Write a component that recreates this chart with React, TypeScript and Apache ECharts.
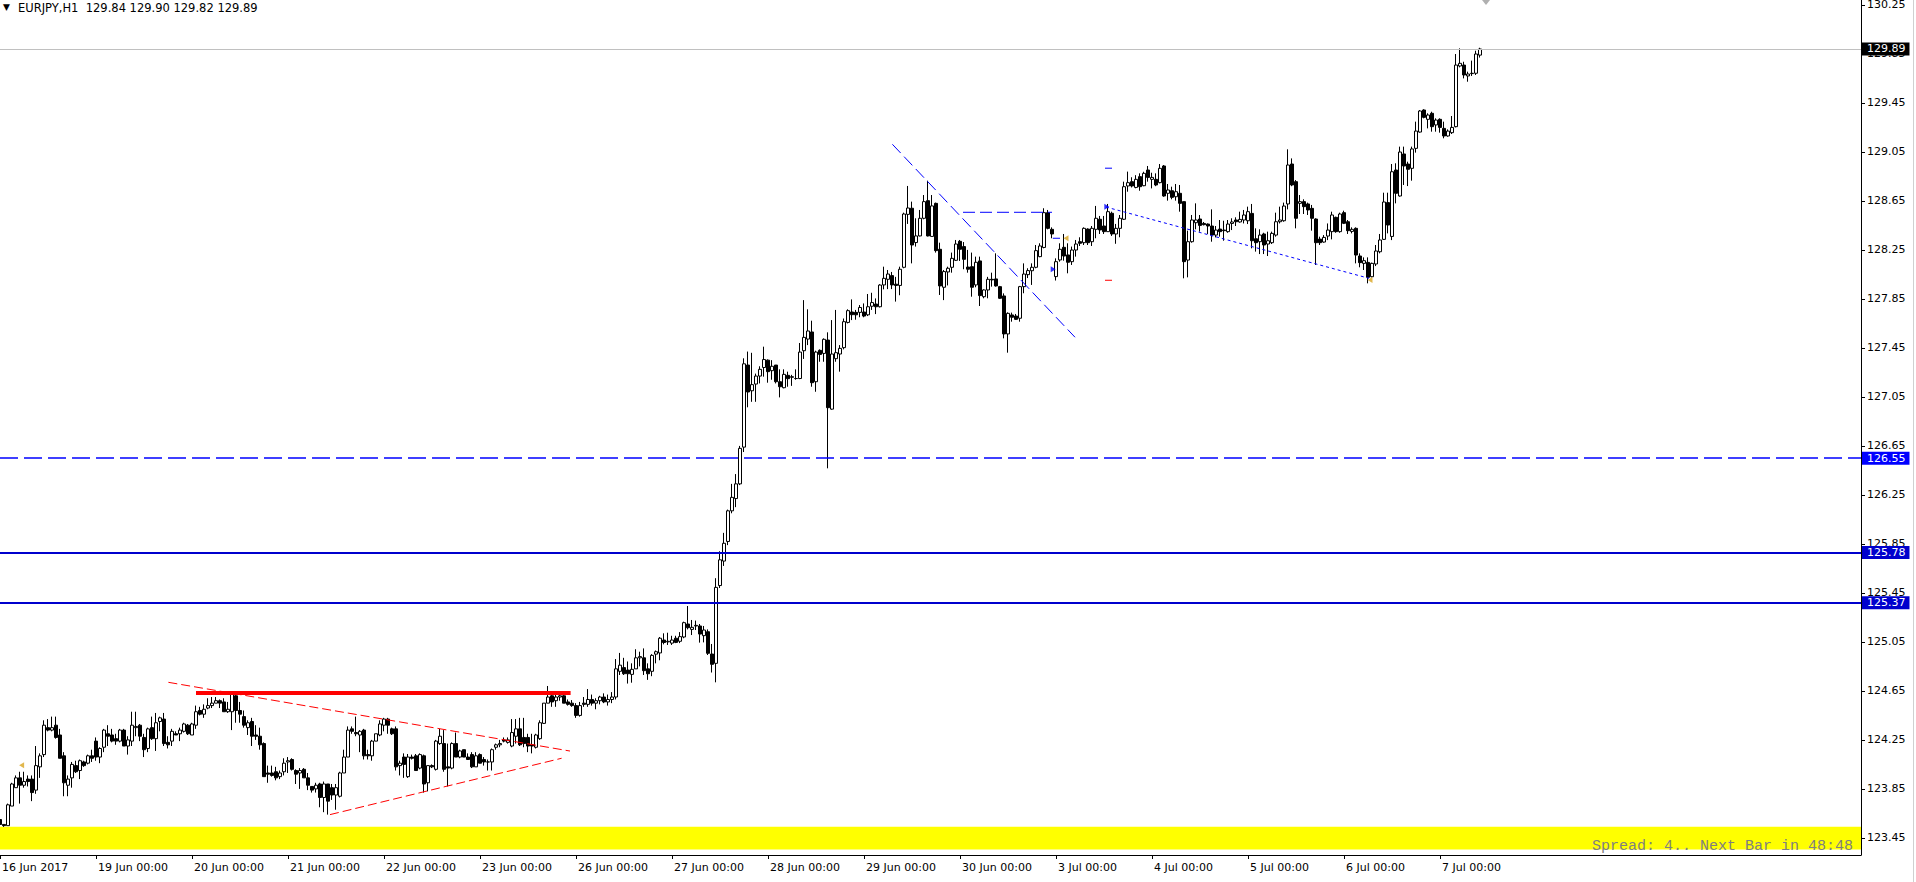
import React, { useEffect, useRef } from "react";
import * as echarts from "echarts";

type Bar = [number, number, number, number]; // open, high, low, close

const jun16: Bar[] = [
  [123.6, 123.64, 123.54, 123.56], [123.56, 123.56, 123.54, 123.55], [123.55, 123.73, 123.55, 123.72], [123.71, 123.9, 123.71, 123.89],
  [123.86, 123.96, 123.86, 123.94], [123.94, 123.99, 123.73, 123.88], [123.88, 123.99, 123.86, 123.91], [123.93, 123.96, 123.87, 123.91],
  [123.93, 123.96, 123.75, 123.82], [123.84, 124.2, 123.81, 124.04], [124.03, 124.14, 123.94, 124.12], [124.13, 124.41, 124.11, 124.37],
  [124.35, 124.42, 124.32, 124.33], [124.33, 124.44, 124.32, 124.35], [124.37, 124.44, 124.26, 124.27], [124.29, 124.34, 124.1, 124.1],
  [124.12, 124.15, 123.79, 123.9], [123.88, 123.96, 123.79, 123.93], [123.94, 124.07, 123.86, 124.05], [124.04, 124.08, 123.98, 123.99],
  [124.0, 124.09, 123.93, 124.08], [124.07, 124.08, 124.03, 124.04], [124.06, 124.13, 124.05, 124.12], [124.12, 124.17, 124.07, 124.1],
];
const jun19: Bar[] = [
  [124.24, 124.27, 124.08, 124.11], [124.11, 124.19, 124.06, 124.18], [124.19, 124.34, 124.15, 124.33], [124.3, 124.37, 124.2, 124.28],
  [124.29, 124.34, 124.23, 124.24], [124.26, 124.3, 124.21, 124.24], [124.24, 124.34, 124.23, 124.33], [124.33, 124.34, 124.2, 124.2],
  [124.2, 124.28, 124.13, 124.25], [124.24, 124.48, 124.2, 124.37], [124.35, 124.48, 124.28, 124.36], [124.37, 124.38, 124.24, 124.28],
  [124.27, 124.3, 124.11, 124.17], [124.18, 124.35, 124.15, 124.34], [124.35, 124.44, 124.25, 124.26], [124.26, 124.47, 124.16, 124.39],
  [124.4, 124.44, 124.32, 124.43], [124.42, 124.47, 124.2, 124.22], [124.23, 124.28, 124.18, 124.21], [124.24, 124.34, 124.2, 124.32],
  [124.3, 124.32, 124.29, 124.29], [124.3, 124.35, 124.24, 124.33], [124.32, 124.39, 124.31, 124.38], [124.37, 124.38, 124.29, 124.3],
];
const jun20: Bar[] = [
  [124.29, 124.39, 124.29, 124.38], [124.37, 124.53, 124.34, 124.48], [124.49, 124.52, 124.45, 124.46], [124.46, 124.54, 124.43, 124.5],
  [124.51, 124.59, 124.5, 124.53], [124.53, 124.6, 124.51, 124.55], [124.55, 124.6, 124.55, 124.57], [124.57, 124.58, 124.51, 124.55],
  [124.56, 124.59, 124.48, 124.48], [124.48, 124.56, 124.47, 124.5], [124.48, 124.64, 124.33, 124.63], [124.61, 124.64, 124.39, 124.49],
  [124.49, 124.56, 124.39, 124.46], [124.44, 124.49, 124.35, 124.37], [124.35, 124.41, 124.29, 124.39], [124.4, 124.43, 124.2, 124.28],
  [124.29, 124.37, 124.25, 124.28], [124.28, 124.35, 124.17, 124.21], [124.22, 124.23, 123.95, 123.95], [123.98, 124.04, 123.9, 123.97],
  [123.98, 124.04, 123.95, 123.96], [123.99, 124.03, 123.92, 123.94], [123.95, 124.0, 123.93, 123.98], [123.99, 124.1, 123.96, 124.06],
];
const jun21: Bar[] = [
  [124.07, 124.11, 123.98, 124.08], [124.09, 124.1, 124.0, 124.01], [124.0, 124.01, 123.89, 123.97], [123.98, 124.02, 123.85, 124.0],
  [124.01, 124.02, 123.94, 123.94], [123.94, 123.98, 123.84, 123.88], [123.87, 123.87, 123.82, 123.84], [123.85, 123.9, 123.82, 123.88],
  [123.89, 123.9, 123.7, 123.78], [123.78, 123.91, 123.66, 123.89], [123.89, 123.89, 123.64, 123.75], [123.86, 123.89, 123.76, 123.8],
  [123.8, 123.89, 123.68, 123.86], [123.79, 123.99, 123.78, 123.98], [123.98, 124.17, 123.98, 124.11], [124.11, 124.36, 124.11, 124.33],
  [124.34, 124.36, 124.3, 124.32], [124.31, 124.44, 124.28, 124.3], [124.29, 124.33, 124.15, 124.32], [124.33, 124.34, 124.09, 124.12],
  [124.13, 124.17, 124.09, 124.12], [124.12, 124.25, 124.08, 124.24], [124.24, 124.3, 124.24, 124.3], [124.29, 124.41, 124.28, 124.38],
];
const jun22: Bar[] = [
  [124.37, 124.43, 124.32, 124.42], [124.42, 124.43, 124.3, 124.37], [124.34, 124.35, 124.29, 124.3], [124.34, 124.36, 124.0, 124.03],
  [124.04, 124.08, 123.96, 124.06], [124.11, 124.14, 123.94, 124.05], [123.95, 124.135, 123.94, 124.11], [124.11, 124.13, 124.09, 124.1],
  [124.12, 124.135, 124.0, 124.0], [124.02, 124.14, 124.01, 124.13], [124.12, 124.13, 123.82, 123.89], [123.9, 124.04, 123.83, 124.04],
  [124.04, 124.05, 124.02, 124.03], [124.01, 124.25, 124.0, 124.24], [124.22, 124.34, 124.21, 124.28], [124.22, 124.33, 123.99, 124.01],
  [124.03, 124.22, 123.87, 124.02], [124.02, 124.23, 124.01, 124.22], [124.22, 124.31, 124.11, 124.11], [124.11, 124.17, 124.1, 124.16],
  [124.17, 124.17, 124.11, 124.11], [124.11, 124.14, 124.09, 124.09], [124.13, 124.15, 124.02, 124.03], [124.03, 124.15, 124.03, 124.12],
];
const jun23: Bar[] = [
  [124.13, 124.14, 124.06, 124.06], [124.09, 124.11, 124.04, 124.07], [124.07, 124.09, 124.0, 124.07], [124.07, 124.18, 124.0, 124.17],
  [124.19, 124.22, 124.17, 124.21], [124.21, 124.25, 124.19, 124.22], [124.25, 124.27, 124.23, 124.24], [124.23, 124.27, 124.22, 124.25],
  [124.2, 124.42, 124.19, 124.31], [124.28, 124.42, 124.22, 124.34], [124.34, 124.43, 124.2, 124.21], [124.27, 124.43, 124.19, 124.22],
  [124.27, 124.3, 124.15, 124.2], [124.21, 124.3, 124.14, 124.2], [124.19, 124.3, 124.18, 124.29], [124.26, 124.41, 124.25, 124.39],
  [124.385, 124.55, 124.38, 124.55], [124.55, 124.69, 124.55, 124.6], [124.61, 124.63, 124.52, 124.56], [124.57, 124.63, 124.52, 124.6],
  [124.6, 124.635, 124.57, 124.61], [124.61, 124.635, 124.55, 124.55], [124.56, 124.58, 124.53, 124.54], [124.55, 124.575, 124.52, 124.53],
];
const jun26: Bar[] = [
  [124.53, 124.55, 124.43, 124.45], [124.45, 124.56, 124.44, 124.53], [124.55, 124.6, 124.52, 124.54], [124.54, 124.665, 124.52, 124.58],
  [124.58, 124.62, 124.53, 124.55], [124.55, 124.59, 124.5, 124.57], [124.57, 124.61, 124.54, 124.6], [124.6, 124.63, 124.55, 124.56],
  [124.56, 124.62, 124.53, 124.58], [124.58, 124.64, 124.55, 124.6], [124.6, 124.91, 124.58, 124.83], [124.81, 124.96, 124.78, 124.86],
  [124.84, 124.92, 124.78, 124.79], [124.82, 124.89, 124.71, 124.79], [124.785, 124.875, 124.717, 124.826], [124.83, 124.99, 124.83, 124.92],
  [124.92, 124.97, 124.85, 124.93], [124.92, 124.997, 124.78, 124.815], [124.83, 124.875, 124.74, 124.79], [124.81, 124.95, 124.77, 124.94],
  [124.95, 124.98, 124.875, 124.97], [124.96, 125.09, 124.9, 125.08], [125.065, 125.12, 125.03, 125.045], [125.05, 125.125, 125.025, 125.055],
];
const jun27: Bar[] = [
  [125.04, 125.1, 125.025, 125.065], [125.08, 125.1, 125.04, 125.046], [125.055, 125.13, 125.04, 125.093], [125.09, 125.215, 125.08, 125.207],
  [125.196, 125.343, 125.152, 125.166], [125.152, 125.229, 125.106, 125.169], [125.18, 125.224, 125.147, 125.185], [125.18, 125.196, 125.044, 125.114],
  [125.101, 125.18, 125.046, 125.147], [125.133, 125.152, 124.943, 124.957], [124.951, 125.033, 124.8, 124.867], [124.875, 125.57, 124.72, 125.495],
  [125.51, 125.79, 125.49, 125.72], [125.71, 125.94, 125.67, 125.855], [125.87, 126.13, 125.84, 126.12], [126.12, 126.34, 126.1, 126.23],
  [126.22, 126.42, 126.15, 126.34], [126.34, 126.65, 126.33, 126.63], [126.64, 127.365, 126.6, 127.32], [127.31, 127.42, 126.965, 127.09],
  [127.1, 127.41, 127.01, 127.15], [127.155, 127.24, 127.01, 127.22], [127.22, 127.3, 127.16, 127.275], [127.29, 127.46, 127.215, 127.355],
];
const jun28: Bar[] = [
  [127.35, 127.356, 127.166, 127.256], [127.264, 127.35, 127.19, 127.3], [127.31, 127.31, 127.16, 127.174], [127.174, 127.275, 127.046, 127.133],
  [127.125, 127.275, 127.12, 127.234], [127.226, 127.256, 127.133, 127.199], [127.21, 127.23, 127.14, 127.215], [127.2, 127.275, 127.19, 127.2],
  [127.2, 127.49, 127.195, 127.416], [127.427, 127.84, 127.36, 127.536], [127.522, 127.765, 127.473, 127.588], [127.58, 127.672, 127.133, 127.166],
  [127.174, 127.427, 127.092, 127.416], [127.43, 127.438, 127.337, 127.397], [127.405, 127.528, 127.337, 127.52], [127.514, 127.577, 126.467, 126.962],
  [126.95, 127.677, 126.945, 127.4], [127.362, 127.76, 127.337, 127.411], [127.4, 127.473, 127.256, 127.446], [127.452, 127.69, 127.438, 127.664],
  [127.658, 127.765, 127.65, 127.754], [127.743, 127.846, 127.677, 127.721], [127.74, 127.76, 127.68, 127.72], [127.74, 127.8, 127.7, 127.78],
];
const jun29: Bar[] = [
  [127.743, 127.813, 127.7, 127.71], [127.72, 127.89, 127.71, 127.786], [127.79, 127.9, 127.76, 127.82], [127.808, 127.854, 127.726, 127.786],
  [127.786, 127.97, 127.78, 127.963], [127.964, 128.113, 127.928, 128.018], [128.01, 128.086, 127.93, 128.053], [128.04, 128.07, 127.93, 127.964],
  [127.97, 128.03, 127.828, 127.96], [127.96, 128.113, 127.88, 128.092], [128.108, 128.554, 128.1, 128.543], [128.54, 128.772, 128.462, 128.592],
  [128.59, 128.644, 128.14, 128.29], [128.31, 128.508, 128.277, 128.364], [128.364, 128.576, 128.36, 128.508], [128.508, 128.698, 128.5, 128.644],
  [128.652, 128.815, 128.36, 128.364], [128.36, 128.698, 128.36, 128.609], [128.63, 128.636, 128.228, 128.244], [128.255, 128.309, 127.882, 127.956],
  [127.945, 128.086, 127.84, 128.073], [128.07, 128.113, 127.96, 128.1], [128.108, 128.228, 128.064, 128.181], [128.165, 128.331, 128.16, 128.298],
];
const jun30: Bar[] = [
  [128.32, 128.331, 128.16, 128.255], [128.277, 128.314, 128.092, 128.173], [128.11, 128.25, 128.064, 128.092], [128.113, 128.228, 127.868, 127.945],
  [127.964, 128.195, 127.945, 128.149], [128.16, 128.195, 127.792, 127.877], [127.868, 127.928, 127.855, 127.923], [127.923, 128.03, 127.855, 128.01],
  [128.01, 128.064, 127.95, 128.005], [128.013, 128.222, 127.95, 127.956], [127.95, 127.956, 127.85, 127.855], [127.874, 127.895, 127.528, 127.564],
  [127.564, 127.74, 127.411, 127.732], [127.719, 127.738, 127.664, 127.7], [127.71, 127.727, 127.678, 127.683], [127.692, 127.956, 127.664, 127.95],
  [127.95, 128.14, 127.896, 128.053], [128.048, 128.1, 128.02, 128.081], [128.08, 128.14, 127.964, 128.108], [128.108, 128.29, 128.1, 128.244],
  [128.195, 128.304, 128.19, 128.282], [128.27, 128.59, 128.263, 128.554], [128.554, 128.576, 128.418, 128.426], [128.418, 128.434, 128.345, 128.38],
];
const jul3: Bar[] = [
  [128.032, 128.181, 128.0, 128.154], [128.168, 128.304, 128.154, 128.255], [128.271, 128.38, 128.162, 128.2], [128.209, 128.304, 128.059, 128.149],
  [128.154, 128.277, 128.127, 128.249], [128.249, 128.331, 128.195, 128.298], [128.317, 128.353, 128.282, 128.304], [128.309, 128.434, 128.29, 128.426],
  [128.42, 128.426, 128.29, 128.309], [128.317, 128.445, 128.282, 128.426], [128.418, 128.609, 128.345, 128.508], [128.5, 128.527, 128.38, 128.413],
  [128.445, 128.527, 128.38, 128.399], [128.399, 128.625, 128.399, 128.562], [128.549, 128.562, 128.364, 128.38], [128.38, 128.462, 128.3, 128.426],
  [128.426, 128.535, 128.353, 128.508], [128.5, 128.807, 128.494, 128.766], [128.772, 128.889, 128.725, 128.799], [128.807, 128.843, 128.76, 128.772],
  [128.76, 128.86, 128.753, 128.826], [128.848, 128.875, 128.733, 128.766], [128.774, 128.888, 128.77, 128.875], [128.902, 128.935, 128.807, 128.842],
];
const jul4: Bar[] = [
  [128.826, 128.88, 128.752, 128.842], [128.826, 128.875, 128.77, 128.78], [128.799, 128.951, 128.793, 128.916], [128.935, 128.943, 128.684, 128.69],
  [128.712, 128.788, 128.652, 128.739], [128.733, 128.766, 128.663, 128.679], [128.684, 128.788, 128.652, 128.725], [128.712, 128.78, 128.562, 128.63],
  [128.644, 128.644, 128.018, 128.154], [128.167, 128.407, 128.026, 128.317], [128.317, 128.535, 128.309, 128.494], [128.472, 128.63, 128.418, 128.494],
  [128.502, 128.535, 128.399, 128.45], [128.466, 128.478, 128.45, 128.456], [128.461, 128.466, 128.38, 128.445], [128.445, 128.581, 128.317, 128.371],
  [128.371, 128.445, 128.352, 128.412], [128.42, 128.494, 128.358, 128.399], [128.412, 128.488, 128.325, 128.407], [128.399, 128.494, 128.39, 128.461],
  [128.466, 128.508, 128.412, 128.478], [128.494, 128.516, 128.445, 128.48], [128.478, 128.562, 128.472, 128.499], [128.494, 128.576, 128.466, 128.535],
];
const jul5: Bar[] = [
  [128.488, 128.603, 128.461, 128.562], [128.548, 128.625, 128.263, 128.325], [128.341, 128.426, 128.236, 128.309], [128.317, 128.418, 128.216, 128.371],
  [128.38, 128.39, 128.216, 128.29], [128.298, 128.399, 128.2, 128.325], [128.309, 128.399, 128.298, 128.385], [128.371, 128.554, 128.358, 128.48],
  [128.48, 128.603, 128.466, 128.494], [128.488, 128.636, 128.48, 128.608], [128.625, 129.071, 128.581, 128.943], [128.951, 128.997, 128.77, 128.78],
  [128.807, 128.82, 128.426, 128.508], [128.63, 128.698, 128.543, 128.644], [128.644, 128.663, 128.543, 128.603], [128.625, 128.636, 128.535, 128.576],
  [128.589, 128.617, 128.407, 128.508], [128.502, 128.508, 128.127, 128.309], [128.338, 128.358, 128.29, 128.309], [128.314, 128.371, 128.309, 128.352],
  [128.363, 128.466, 128.33, 128.412], [128.399, 128.562, 128.336, 128.535], [128.516, 128.521, 128.39, 128.399], [128.399, 128.554, 128.39, 128.543],
];
const jul6: Bar[] = [
  [128.554, 128.57, 128.461, 128.467], [128.48, 128.494, 128.38, 128.407], [128.401, 128.434, 128.385, 128.418], [128.426, 128.434, 128.14, 128.208],
  [128.2, 128.222, 128.108, 128.146], [128.14, 128.189, 128.086, 128.162], [128.148, 128.189, 127.977, 128.026], [128.031, 128.146, 128.026, 128.14],
  [128.135, 128.29, 128.118, 128.241], [128.235, 128.38, 128.222, 128.331], [128.336, 128.717, 128.331, 128.641], [128.636, 128.717, 128.385, 128.453],
  [128.36, 128.951, 128.33, 128.888], [128.902, 128.957, 128.63, 128.712], [128.69, 129.093, 128.685, 129.049], [129.033, 129.093, 128.78, 128.935],
  [128.951, 128.97, 128.771, 128.908], [128.916, 129.093, 128.815, 129.074], [129.079, 129.297, 129.044, 129.22], [129.212, 129.392, 129.207, 129.384],
  [129.392, 129.398, 129.324, 129.332], [129.316, 129.365, 129.242, 129.351], [129.365, 129.378, 129.215, 129.256], [129.27, 129.324, 129.215, 129.31],
];
const jul7: Bar[] = [
  [129.316, 129.324, 129.207, 129.25], [129.242, 129.297, 129.161, 129.18], [129.18, 129.234, 129.174, 129.22], [129.207, 129.343, 129.196, 129.25],
  [129.256, 129.849, 129.25, 129.759], [129.751, 129.895, 129.74, 129.773], [129.759, 129.786, 129.65, 129.678], [129.67, 129.705, 129.623, 129.686],
  [129.689, 129.795, 129.67, 129.692], [129.692, 129.876, 129.678, 129.849], [129.84, 129.9, 129.82, 129.89],
];

const days: Bar[][] = [jun16, jun19, jun20, jun21, jun22, jun23, jun26, jun27, jun28, jun29, jun30, jul3, jul4, jul5, jul6, jul7];

const dayTicks = [0, 24, 48, 72, 96, 120, 144, 168, 192, 216, 240, 264, 288, 312, 336, 360];
const dayLabels = [
  "16 Jun 2017", "19 Jun 00:00", "20 Jun 00:00", "21 Jun 00:00", "22 Jun 00:00", "23 Jun 00:00", "26 Jun 00:00",
  "27 Jun 00:00", "28 Jun 00:00", "29 Jun 00:00", "30 Jun 00:00", "3 Jul 00:00", "4 Jul 00:00", "5 Jul 00:00",
  "6 Jul 00:00", "7 Jul 00:00",
];
const priceTicks = [
  123.45, 123.85, 124.25, 124.65, 125.05, 125.45, 125.85, 126.25, 126.65, 127.05, 127.45, 127.85,
  128.25, 128.65, 129.05, 129.45, 129.85, 130.25,
];

const header = "EURJPY,H1  129.84 129.90 129.82 129.89";
const spreadText = "Spread: 4.. Next Bar in 48:48";

const bidPrice = 129.89;
const dashedLevel = 126.55;
const levelA = 125.78;
const levelB = 125.37;
const yellowZone = [123.355, 123.54];

const redResistance = [[49, 124.633], [142.65, 124.633]];
const redUpper = [[42.1, 124.72], [142.5, 124.159]];
const redLower = [[82.5, 123.64], [140.4, 124.1]];
const blueDiag = [[223.1, 129.112], [268.75, 127.537]];
const blueFlat = [[240.75, 128.557], [263, 128.557]];
const blueDotted = [[276.5, 128.6], [342.25, 128.018]];
const blueTickTop = [[276.25, 128.917], [278, 128.917]];
const redTickLow = [[276.25, 128.002], [278, 128.002]];
const blueTickMid = [[263.2, 128.345], [265, 128.345]];
const orangeMarks = [[5.4, 124.043], [266.5, 128.345], [342.5, 128.004]];
const blueMarks = [[263.3, 128.092], [276.7, 128.603]];

const FONT = "DejaVu Sans";

function seg(data: number[][], color: string, width: number, type: any) {
  return {
    type: "line",
    data,
    symbol: "none",
    silent: true,
    z: 4,
    lineStyle: { color, width, type },
  };
}

function levelLine(value: number, color: string, type: any, width: number) {
  return {
    yAxis: value,
    lineStyle: { color, type, width },
    label: {
      show: true,
      position: "end",
      distance: 1,
      formatter: value.toFixed(2),
      backgroundColor: color === "#c0c0c0" ? "#000" : color,
      color: "#fff",
      fontSize: 11,
      fontFamily: FONT,
      lineHeight: 12,
      padding: [1, 4, 0, 5],
    },
  };
}

export default function App() {
  const ref = useRef<HTMLDivElement>(null);
  useEffect(() => {
    document.body.style.margin = "0";
    const chart = echarts.init(ref.current!, null, { renderer: "svg" });
    const bars = days.flat();
    const candleData = bars.map((b, i) => [i, b[0], b[3], b[2], b[1]]);
    const option: any = {
      animation: false,
      backgroundColor: "#fff",
      grid: { left: 0, top: 0, right: 55, bottom: 27, containLabel: false, outerBoundsMode: "none" },
      xAxis: {
        type: "value",
        min: 0,
        max: 465.25,
        splitLine: { show: false },
        axisLine: { show: true, onZero: false, lineStyle: { color: "#000", width: 1 } },
        axisTick: { show: true, customValues: dayTicks, length: 4, lineStyle: { color: "#000" } },
        axisLabel: {
          customValues: dayTicks,
          formatter: (v: number) => dayLabels[dayTicks.indexOf(Math.round(v))] ?? "",
          align: "left",
          margin: 7,
          padding: [0, 0, 0, 2],
          color: "#000",
          fontSize: 11,
          fontFamily: FONT,
        },
      },
      yAxis: {
        type: "value",
        position: "right",
        min: 123.3104,
        max: 130.29,
        splitLine: { show: false },
        axisLine: { show: true, onZero: false, lineStyle: { color: "#000", width: 1 } },
        axisTick: { show: true, customValues: priceTicks, length: 4, lineStyle: { color: "#000" } },
        axisLabel: {
          customValues: priceTicks,
          formatter: (v: number) => v.toFixed(2),
          margin: 6,
          color: "#000",
          fontSize: 11,
          fontFamily: FONT,
        },
      },
      graphic: [
        { type: "text", x: 3, y: 7, style: { text: "▼", fontSize: 9, fontFamily: FONT, fill: "#000", verticalAlign: "middle" } },
        { type: "text", x: 18, y: 7.5, style: { text: header, fontSize: 11.5, fontFamily: FONT, fill: "#000", verticalAlign: "middle" } },
        { type: "text", x: 1853, y: 846, z: 10, style: { text: spreadText, fontSize: 15, fontFamily: "Liberation Mono", fill: "#808080", align: "right", verticalAlign: "middle" } },
        { type: "line", shape: { x1: 1913.5, y1: 0, x2: 1913.5, y2: 882 }, style: { stroke: "#d0d0d0", lineWidth: 1 } },
        { type: "polygon", shape: { points: [[1482, 0], [1490, 0], [1486, 5]] }, style: { fill: "#b0b0b0" } },
      ],
      series: [
        {
          type: "candlestick",
          data: candleData,
          barWidth: 3,
          silent: true,
          z: 3,
          itemStyle: { color: "#fff", color0: "#000", borderColor: "#000", borderColor0: "#000", borderWidth: 1 },
          markArea: {
            silent: true,
            label: { show: false },
            itemStyle: { color: "#ffff00", opacity: 1 },
            data: [[{ yAxis: yellowZone[1] }, { yAxis: yellowZone[0] }]],
          },
          markLine: {
            silent: true,
            symbol: ["none", "none"],
            data: [
              levelLine(bidPrice, "#c0c0c0", "solid", 1),
              levelLine(dashedLevel, "#0000ff", [18, 6], 1.5),
              levelLine(levelA, "#0000cd", "solid", 2),
              levelLine(levelB, "#0000cd", "solid", 2),
            ],
          },
        },
        seg(redResistance, "#ff0000", 4, "solid"),
        seg(redUpper, "#ff0000", 1, [9, 4]),
        seg(redLower, "#ff0000", 1, [9, 4]),
        seg(blueDiag, "#0000ff", 1, [12, 5]),
        seg(blueFlat, "#0000ff", 1, [12, 5]),
        seg(blueDotted, "#0000ff", 1, [3, 3]),
        seg(blueTickTop, "#0000ff", 1, "solid"),
        seg(redTickLow, "#ff0000", 1, "solid"),
        seg(blueTickMid, "#0000ff", 1, "solid"),
        {
          type: "scatter",
          data: orangeMarks,
          symbol: "triangle",
          symbolSize: [6, 5],
          symbolRotate: 90,
          silent: true,
          z: 5,
          itemStyle: { color: "#daa520" },
        },
        {
          type: "scatter",
          data: blueMarks,
          symbol: "triangle",
          symbolSize: [6, 5],
          symbolRotate: -90,
          silent: true,
          z: 5,
          itemStyle: { color: "#0000ff" },
        },
      ],
    };
    chart.setOption(option);
    return () => chart.dispose();
  }, []);
  return (
    <div
      ref={ref}
      style={{ position: "fixed", left: 0, top: 0, width: 1916, height: 882, background: "#fff" }}
    />
  );
}
